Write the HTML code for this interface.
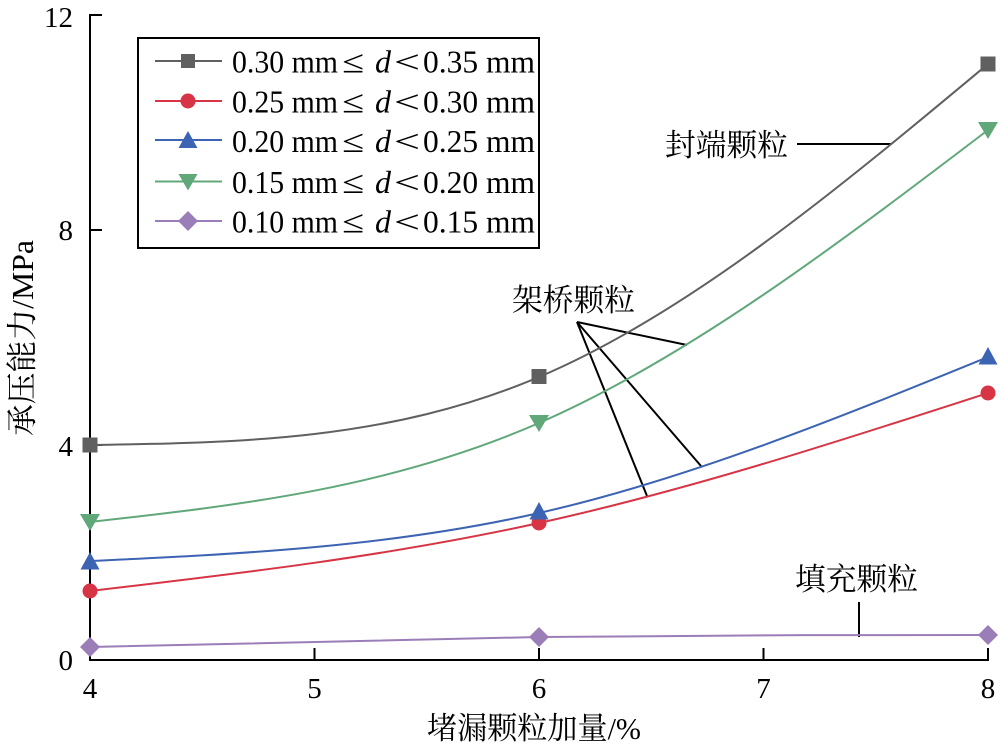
<!DOCTYPE html>
<html>
<head>
<meta charset="utf-8">
<style>
  html,body{margin:0;padding:0;background:#fff;}
  svg{display:block;}
  .num{font-family:"Liberation Serif","Noto Serif CJK SC",serif;font-size:29px;fill:#000;}
  .cjk{font-family:"Liberation Serif","Noto Serif CJK SC",serif;font-size:31px;fill:#000;}
  .leg{font-family:"Liberation Serif","Noto Serif CJK SC",serif;font-size:32px;fill:#000;}
</style>
</head>
<body>
<svg width="1000" height="750" viewBox="0 0 1000 750" xmlns="http://www.w3.org/2000/svg">
  <rect width="1000" height="750" fill="#fff"/>

  <!-- axes -->
  <g stroke="#000" stroke-width="2" fill="none">
    <line x1="90" y1="14" x2="90" y2="661"/>
    <line x1="89" y1="660" x2="989" y2="660"/>
    <!-- y ticks -->
    <line x1="90" y1="15" x2="102" y2="15"/>
    <line x1="90" y1="230" x2="102" y2="230"/>
    <line x1="90" y1="445" x2="102" y2="445"/>
    <!-- x ticks -->
    <line x1="314.5" y1="660" x2="314.5" y2="648"/>
    <line x1="539" y1="660" x2="539" y2="648"/>
    <line x1="763.5" y1="660" x2="763.5" y2="648"/>
    <line x1="988" y1="660" x2="988" y2="648"/>
  </g>

  <!-- tick labels -->
  <g class="num" text-anchor="end">
    <text x="73" y="27">12</text>
    <text x="73" y="240">8</text>
    <text x="73" y="456">4</text>
    <text x="73" y="670">0</text>
  </g>
  <g class="num" text-anchor="middle">
    <text x="90" y="698">4</text>
    <text x="314.5" y="698">5</text>
    <text x="539" y="698">6</text>
    <text x="763.5" y="698">7</text>
    <text x="988" y="698">8</text>
  </g>

  <!-- axis titles -->
  <text class="cjk" x="427" y="739" textLength="214" lengthAdjust="spacingAndGlyphs">堵漏颗粒加量/%</text>
  <text class="cjk" transform="translate(33,338) rotate(-90)" text-anchor="middle" textLength="196" lengthAdjust="spacingAndGlyphs">承压能力/MPa</text>

  <!-- annotation lines -->
  <g stroke="#000" stroke-width="2" fill="none">
    <line x1="797" y1="144" x2="891" y2="144"/>
    <line x1="577" y1="322" x2="687" y2="345"/>
    <line x1="577" y1="322" x2="701" y2="466"/>
    <line x1="577" y1="322" x2="647" y2="496"/>
    <line x1="859" y1="602" x2="859" y2="637"/>
  </g>
  <text class="cjk" x="665" y="156" textLength="123" lengthAdjust="spacingAndGlyphs">封端颗粒</text>
  <text class="cjk" x="512" y="311" textLength="123" lengthAdjust="spacingAndGlyphs">架桥颗粒</text>
  <text class="cjk" x="795" y="590" textLength="123" lengthAdjust="spacingAndGlyphs">填充颗粒</text>

  <!-- curves (natural cubic splines as Beziers) -->
  <g fill="none" stroke-width="2">
    <path stroke="#9b7db8" d="M90,647 C239.67,643 389.33,639 539,637 C688.67,635 838.33,635 988,635"/>
    <path stroke="#d73445" d="M90,591 C239.67,573.5 389.33,556 539,523 C688.67,490 838.33,441.5 988,393"/>
    <path stroke="#3d63b3" d="M90,561 C239.67,554 389.33,547 539,513 C688.67,479 838.33,418 988,357"/>
    <path stroke="#60a87a" d="M90,522 C239.67,505.17 389.33,488.33 539,423 C688.67,357.67 838.33,243.83 988,130"/>
    <path stroke="#606060" d="M90,445 C239.67,442.75 389.33,440.5 539,377 C688.67,313.5 838.33,188.75 988,64"/>
  </g>

  <!-- markers -->
  <g fill="#9b7db8">
    <polygon points="90,637 100,647 90,657 80,647"/>
    <polygon points="539,627 549,637 539,647 529,637"/>
    <polygon points="988,625 998,635 988,645 978,635"/>
  </g>
  <g fill="#d73445">
    <circle cx="90" cy="591" r="7.5"/>
    <circle cx="539" cy="523" r="7.5"/>
    <circle cx="988" cy="393" r="7.5"/>
  </g>
  <g fill="#3d63b3">
    <polygon points="90,552 99.5,569.5 80.5,569.5"/>
    <polygon points="539,502 548.5,519.5 529.5,519.5"/>
    <polygon points="988,347 997.5,364.5 978.5,364.5"/>
  </g>
  <g fill="#60a87a">
    <polygon points="80,514 100,514 90,531"/>
    <polygon points="529,415 549,415 539,432"/>
    <polygon points="978,122 998,122 988,139"/>
  </g>
  <g fill="#606060">
    <rect x="82.5" y="437.5" width="15" height="15"/>
    <rect x="531.5" y="369" width="15" height="15"/>
    <rect x="980.5" y="56.5" width="15" height="15"/>
  </g>

  <!-- legend -->
  <rect x="138" y="38" width="401" height="210" fill="#fff" stroke="#000" stroke-width="2"/>
  <g stroke-width="2">
    <line x1="155" y1="61" x2="222" y2="61" stroke="#606060"/>
    <line x1="155" y1="101" x2="222" y2="101" stroke="#d73445"/>
    <line x1="155" y1="140" x2="222" y2="140" stroke="#3d63b3"/>
    <line x1="155" y1="181.5" x2="222" y2="181.5" stroke="#60a87a"/>
    <line x1="155" y1="221" x2="222" y2="221" stroke="#9b7db8"/>
  </g>
  <rect x="181" y="54" width="14" height="14" fill="#606060"/>
  <circle cx="188" cy="101" r="7.5" fill="#d73445"/>
  <polygon points="188,131 197.5,148 178.5,148" fill="#3d63b3"/>
  <polygon points="178.5,174 197.5,174 188,190.5" fill="#60a87a"/>
  <polygon points="188,211 198,221 188,231 178,221" fill="#9b7db8"/>

  <g class="leg">
    <text y="72.5"><tspan x="232" textLength="106" lengthAdjust="spacingAndGlyphs">0.30 mm</tspan><tspan x="342" textLength="22" lengthAdjust="spacingAndGlyphs">≤</tspan><tspan x="375" font-style="italic">d</tspan><tspan x="394" textLength="26" lengthAdjust="spacingAndGlyphs">&lt;</tspan><tspan x="423" textLength="112" lengthAdjust="spacingAndGlyphs">0.35 mm</tspan></text>
    <text y="112.5"><tspan x="232" textLength="106" lengthAdjust="spacingAndGlyphs">0.25 mm</tspan><tspan x="342" textLength="22" lengthAdjust="spacingAndGlyphs">≤</tspan><tspan x="375" font-style="italic">d</tspan><tspan x="394" textLength="26" lengthAdjust="spacingAndGlyphs">&lt;</tspan><tspan x="423" textLength="112" lengthAdjust="spacingAndGlyphs">0.30 mm</tspan></text>
    <text y="152"><tspan x="232" textLength="106" lengthAdjust="spacingAndGlyphs">0.20 mm</tspan><tspan x="342" textLength="22" lengthAdjust="spacingAndGlyphs">≤</tspan><tspan x="375" font-style="italic">d</tspan><tspan x="394" textLength="26" lengthAdjust="spacingAndGlyphs">&lt;</tspan><tspan x="423" textLength="112" lengthAdjust="spacingAndGlyphs">0.25 mm</tspan></text>
    <text y="193"><tspan x="232" textLength="106" lengthAdjust="spacingAndGlyphs">0.15 mm</tspan><tspan x="342" textLength="22" lengthAdjust="spacingAndGlyphs">≤</tspan><tspan x="375" font-style="italic">d</tspan><tspan x="394" textLength="26" lengthAdjust="spacingAndGlyphs">&lt;</tspan><tspan x="423" textLength="112" lengthAdjust="spacingAndGlyphs">0.20 mm</tspan></text>
    <text y="232.5"><tspan x="232" textLength="106" lengthAdjust="spacingAndGlyphs">0.10 mm</tspan><tspan x="342" textLength="22" lengthAdjust="spacingAndGlyphs">≤</tspan><tspan x="375" font-style="italic">d</tspan><tspan x="394" textLength="26" lengthAdjust="spacingAndGlyphs">&lt;</tspan><tspan x="423" textLength="112" lengthAdjust="spacingAndGlyphs">0.15 mm</tspan></text>
  </g>
</svg>
</body>
</html>
